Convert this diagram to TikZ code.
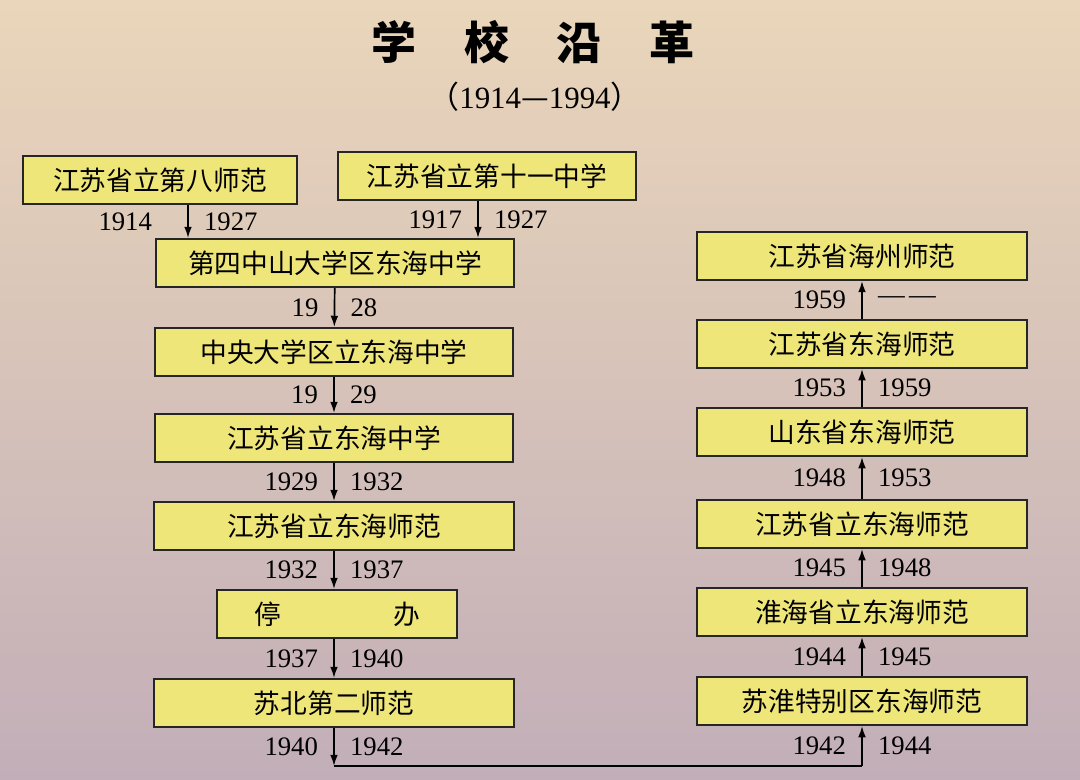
\documentclass[tikz,border=0pt]{standalone}
\usepackage{fontspec}
\setmainfont{Liberation Serif}
\newfontfamily\cjk{Noto Sans CJK SC}
\usetikzlibrary{arrows.meta}
\definecolor{paper}{RGB}{234,214,186}
\definecolor{papermid}{RGB}{214,198,200}
\definecolor{paperlow}{RGB}{194,174,184}
\definecolor{boxyellow}{RGB}{239,230,122}
\newcommand{\bx}{\cjk\fontsize{19pt}{22pt}\selectfont}
\newcommand{\yr}{\fontsize{19pt}{21pt}\selectfont}

\begin{document}
\begin{tikzpicture}[x=0.025cm,y=-0.025cm,
   stage/.style={draw=black!85,line width=1.4pt,fill=boxyellow,
                 minimum height=1.2cm,inner sep=0pt,font=\bx},
   link/.style={line width=1.2pt,-{Latex[length=8pt,width=5.5pt]}},
   yl/.style={midway,left=0.38cm,inner sep=0pt,font=\yr},
   yrt/.style={midway,right=0.38cm,inner sep=0pt,font=\yr}]
   \shade[top color=paper,middle color=papermid,bottom color=paperlow] (0,0) rectangle (1080,779);
   % title
   \node[font=\cjk\bfseries\fontsize{32pt}{34pt}\selectfont] (title) at (533,42) {学\hspace{1.06em}校\hspace{1.06em}沿\hspace{1.06em}革};
   \node[font=\fontsize{22pt}{24pt}\selectfont] (span) at (535,97) {{\cjk（}1914{\cjk —}1994{\cjk）}};
   % left column
   \node[stage,minimum width=6.85cm] (jsba) at (160,180) {江苏省立第八师范};
   \node[stage,minimum width=7.45cm] (jssy) at (487,176) {江苏省立第十一中学};
   \node[stage,minimum width=8.95cm] (dszs) at (335,263) {第四中山大学区东海中学};
   \node[stage,minimum width=8.95cm] (zydx) at (334,352) {中央大学区立东海中学};
   \node[stage,minimum width=8.95cm] (jszx) at (334,438) {江苏省立东海中学};
   \node[stage,minimum width=9cm]    (jssf) at (334,526) {江苏省立东海师范};
   \node[stage,minimum width=6cm]    (tb)   at (337,614) {停\hspace{2.8cm}办};
   \node[stage,minimum width=9cm]    (sbde) at (334,703) {苏北第二师范};
   % right column
   \node[stage,minimum width=8.25cm] (shtb) at (862,701) {苏淮特别区东海师范};
   \node[stage,minimum width=8.25cm] (hhsf) at (862,612) {淮海省立东海师范};
   \node[stage,minimum width=8.25cm] (jslf) at (862,524) {江苏省立东海师范};
   \node[stage,minimum width=8.25cm] (sdsf) at (862,432) {山东省东海师范};
   \node[stage,minimum width=8.25cm] (jdsf) at (862,344) {江苏省东海师范};
   \node[stage,minimum width=8.25cm] (hzsf) at (862,256) {江苏省海州师范};
   \coordinate (jl) at (334,766);
   \coordinate (jr) at (862,766);
   % left arrows
   \draw[link] ([xshift=0.7cm]jsba.south) -- ([xshift=0.7cm]jsba.south |- dszs.north)
      node[yl,left=0.5cm]{1914} node[yrt]{1927};
   \draw[link] ([xshift=-0.225cm]jssy.south) -- ([xshift=-0.225cm]jssy.south |- dszs.north)
      node[yl]{1917} node[yrt]{1927};
   \draw[link] (dszs) -- (zydx) node[yl]{19} node[yrt]{28};
   \draw[link] (zydx) -- (jszx) node[yl]{19} node[yrt]{29};
   \draw[link] (jszx) -- (jssf) node[yl]{1929} node[yrt]{1932};
   \draw[link] (jssf.south) -- (jssf.south |- tb.north) node[yl]{1932} node[yrt]{1937};
   \draw[link] (sbde.north |- tb.south) -- (sbde.north) node[yl]{1937} node[yrt]{1940};
   \draw[link] (sbde.south) -- (jl) node[yl]{1940} node[yrt]{1942};
   \draw[line width=1.2pt] (jl) -- (jr);
   % right arrows
   \draw[link] (jr) -- (shtb.south) node[yl]{1942} node[yrt]{1944};
   \draw[link] (shtb) -- (hhsf) node[yl]{1944} node[yrt]{1945};
   \draw[link] (hhsf) -- (jslf) node[yl]{1945} node[yrt]{1948};
   \draw[link] (jslf) -- (sdsf) node[yl]{1948} node[yrt]{1953};
   \draw[link] (sdsf) -- (jdsf) node[yl]{1953} node[yrt]{1959};
   \draw[link] (jdsf) -- (hzsf) node[yl]{1959} node[yrt]{—\,—};
\end{tikzpicture}
\end{document}
